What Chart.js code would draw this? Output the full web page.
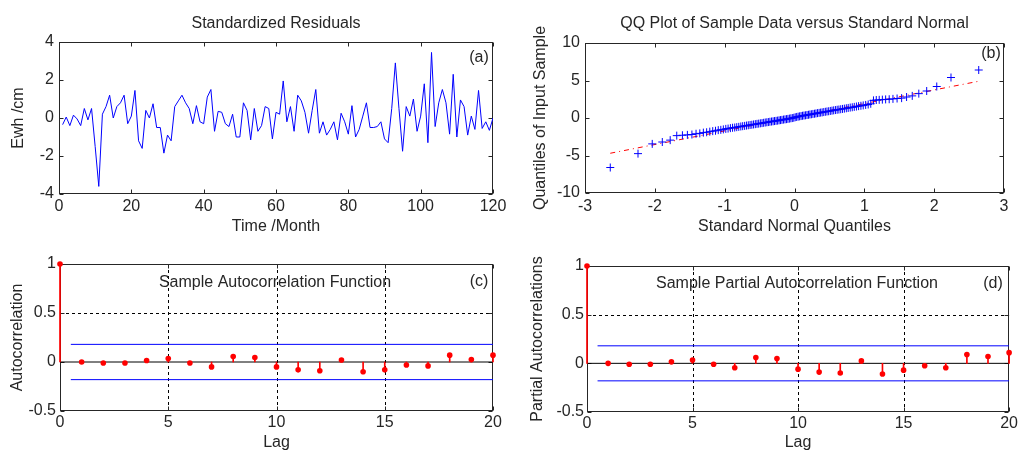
<!DOCTYPE html>
<html><head><meta charset="utf-8">
<script src="https://cdn.jsdelivr.net/npm/chart.js@4.4.0/dist/chart.umd.min.js"></script>
<style>
html,body{margin:0;padding:0;background:#fff;}
#wrap{position:relative;width:1020px;height:453px;overflow:hidden;background:#fff;}
canvas{position:absolute;}
</style></head><body>
<div id="wrap">
<canvas id="ca" width="510" height="235" style="left:0;top:0"></canvas>
<canvas id="cb" width="510" height="235" style="left:510px;top:0"></canvas>
<canvas id="cc" width="510" height="218" style="left:0;top:235px"></canvas>
<canvas id="cd" width="510" height="218" style="left:510px;top:235px"></canvas>
</div>
<script>
// ---------- DATA ----------
const residuals = [
 -0.35,0.05,-0.4,0.15,-0.05,-0.4,0.5,-0.1,0.5,-1.5,
 -3.6,0.2,0.6,1.2,0.0,0.6,0.8,1.2,-0.3,0.1,
 1.45,-1.2,-1.6,0.4,0.0,0.75,-0.5,-0.5,-1.85,-0.9,
 -1.2,0.6,0.9,1.2,0.8,0.5,-0.3,0.65,-0.2,-0.3,
 1.1,1.5,-0.7,0.35,0.3,-0.3,-0.45,0.2,-1.0,-1.0,
 0.8,0.4,-1.15,0.5,-0.7,-0.4,0.6,0.5,-1.1,0.3,
 0.2,1.95,-0.2,0.6,-0.7,1.2,0.9,0.3,-0.8,0.4,
 1.5,-0.8,-0.2,-0.9,-0.6,-0.2,-1.15,0.25,-0.2,-0.85,
 0.65,-1.0,-0.6,0.1,0.8,-0.5,-0.5,-0.45,-0.2,-1.1,
 -1.3,0.5,2.9,0.5,-1.75,0.6,0.1,1.0,-0.7,0.1,
 1.8,-1.3,3.45,-0.45,0.8,1.5,0.8,-0.85,2.3,-1.0,
 0.95,0.6,-0.9,0.1,-0.6,1.45,-0.55,-0.2,-0.65,0.0];

const qqTheoretical = [
 -2.638,-2.241,-2.037,-1.893,-1.780,-1.686,-1.605,-1.534,-1.469,-1.410,
 -1.356,-1.305,-1.258,-1.213,-1.171,-1.131,-1.092,-1.055,-1.019,-0.984,
 -0.951,-0.918,-0.887,-0.856,-0.827,-0.798,-0.769,-0.742,-0.714,-0.688,
 -0.662,-0.636,-0.611,-0.586,-0.561,-0.537,-0.513,-0.489,-0.465,-0.442,
 -0.419,-0.396,-0.374,-0.352,-0.329,-0.307,-0.286,-0.264,-0.242,-0.221,
 -0.200,-0.179,-0.157,-0.136,-0.115,-0.094,-0.073,-0.052,-0.031,-0.010,
 0.010,0.031,0.052,0.073,0.094,0.115,0.136,0.157,0.179,0.200,
 0.221,0.242,0.264,0.286,0.307,0.329,0.352,0.374,0.396,0.419,
 0.442,0.465,0.489,0.513,0.537,0.561,0.586,0.611,0.636,0.662,
 0.688,0.714,0.742,0.769,0.798,0.827,0.856,0.887,0.918,0.951,
 0.984,1.019,1.055,1.092,1.131,1.171,1.213,1.258,1.305,1.356,
 1.410,1.469,1.534,1.605,1.686,1.780,1.893,2.037,2.241,2.638];

const qqSample = [
 -6.6,-4.75,-3.45,-3.2,-2.95,-2.35,-2.3,-2.25,-2.2,-2.1,
 -2.05,-1.95,-1.9,-1.82,-1.75,-1.7,-1.62,-1.58,-1.52,-1.45,
 -1.41,-1.35,-1.3,-1.27,-1.22,-1.18,-1.13,-1.09,-1.05,-1.01,
 -0.97,-0.93,-0.9,-0.86,-0.82,-0.78,-0.75,-0.71,-0.68,-0.64,
 -0.6,-0.57,-0.54,-0.5,-0.47,-0.44,-0.41,-0.38,-0.35,-0.31,
 -0.28,-0.25,-0.21,-0.18,-0.15,-0.12,-0.08,-0.04,-0.01,0.03,
 0.1,0.14,0.18,0.22,0.26,0.3,0.33,0.36,0.4,0.43,
 0.47,0.5,0.54,0.57,0.61,0.65,0.68,0.72,0.75,0.79,
 0.83,0.87,0.9,0.94,0.98,1.02,1.06,1.1,1.13,1.17,
 1.21,1.25,1.3,1.34,1.39,1.43,1.48,1.53,1.58,1.63,
 1.68,1.74,1.8,1.9,2.35,2.4,2.42,2.45,2.48,2.5,
 2.55,2.6,2.65,2.8,2.95,3.25,3.6,4.2,5.4,6.4];

const qqRefX = [-2.638, 2.638];
const qqRefY = [-4.7, 4.9];

const lags = [0,1,2,3,4,5,6,7,8,9,10,11,12,13,14,15,16,17,18,19,20];
const acf  = [1,0.0,-0.01,-0.01,0.015,0.035,-0.01,-0.05,0.055,0.045,-0.05,-0.08,-0.09,0.02,-0.1,-0.08,-0.03,-0.04,0.07,0.025,0.07];
const pacf = [1,0.0,-0.01,-0.01,0.015,0.035,-0.01,-0.045,0.06,0.05,-0.06,-0.09,-0.1,0.025,-0.11,-0.07,-0.025,-0.045,0.09,0.07,0.11];
const acfBound = 0.18;
const pacfBound = 0.18;
const boundStart = 0.5;

// ---------- STYLE ----------
const FONT = '"Liberation Sans", Arial, sans-serif';
const TXT = '#262626';
const AXC = '#262626';

const framePlugin = {
  id: 'frame',
  beforeDatasetsDraw(chart, args, o) {
    const {ctx, chartArea: a, scales: {x, y}} = chart;
    ctx.save();
    if (o.grid) {
      ctx.strokeStyle = '#000';
      ctx.lineWidth = 1;
      ctx.setLineDash([3, 3]);
      x.ticks.forEach(t => {
        if (t.value <= x.min || t.value >= x.max) return;
        const px = Math.round(x.getPixelForValue(t.value)) + 0.5;
        ctx.beginPath(); ctx.moveTo(px, a.top); ctx.lineTo(px, a.bottom); ctx.stroke();
      });
      y.ticks.forEach(t => {
        if (t.value <= y.min || t.value >= y.max || t.value === 0) return;
        const py = Math.round(y.getPixelForValue(t.value)) + 0.5;
        ctx.beginPath(); ctx.moveTo(a.left, py); ctx.lineTo(a.right, py); ctx.stroke();
      });
    }
    ctx.strokeStyle = AXC;
    ctx.lineWidth = 1;
    ctx.setLineDash([]);
    const L = Math.round(a.left) + 0.5, R = Math.round(a.right) - 0.5;
    const T = Math.round(a.top) + 0.5, B = Math.round(a.bottom) - 0.5;
    ctx.strokeRect(L, T, R - L, B - T);
    const tl = 4;
    x.ticks.forEach(t => {
      const px = Math.round(x.getPixelForValue(t.value)) + 0.5;
      ctx.beginPath(); ctx.moveTo(px, B); ctx.lineTo(px, B - tl); ctx.moveTo(px, T); ctx.lineTo(px, T + tl); ctx.stroke();
    });
    y.ticks.forEach(t => {
      const py = Math.round(y.getPixelForValue(t.value)) + 0.5;
      ctx.beginPath(); ctx.moveTo(L, py); ctx.lineTo(L + tl, py); ctx.moveTo(R, py); ctx.lineTo(R - tl, py); ctx.stroke();
    });
    ctx.restore();
  },
  afterDraw(chart, args, o) {
    const {ctx, chartArea: a} = chart;
    ctx.save();
    ctx.fillStyle = TXT;
    ctx.font = '16px ' + FONT;
    ctx.textBaseline = 'middle';
    ctx.textAlign = 'center';
    if (o.title) ctx.fillText(o.title, o.titleX != null ? o.titleX : (a.left + a.right) / 2, o.titleY);
    if (o.tag) ctx.fillText(o.tag, o.tagX, o.tagY);
    ctx.restore();
  }
};

const plainLabel = v => String(Math.round(v * 1000) / 1000);

function makeScales(cfg) {
  return {
    x: {
      type: 'linear', position: 'bottom', min: cfg.xmin, max: cfg.xmax, offset: false,
      ticks: {stepSize: cfg.xstep, color: TXT, font: {family: FONT, size: 16}, padding: cfg.xpad, maxRotation: 0, autoSkip: false, callback: plainLabel},
      grid: {display: false, drawTicks: false, offset: false},
      border: {display: false},
      title: {display: true, text: cfg.xtitle, color: TXT, font: {family: FONT, size: 16, lineHeight: 1}, padding: {top: 0, bottom: cfg.xtpad}},
      afterFit(s) { s.height = cfg.xh; }
    },
    y: {
      type: 'linear', position: 'left', min: cfg.ymin, max: cfg.ymax,
      ticks: {stepSize: cfg.ystep, color: TXT, font: {family: FONT, size: 16}, padding: cfg.ypad, autoSkip: false, callback: plainLabel},
      grid: {display: false, drawTicks: false},
      border: {display: false},
      title: {display: true, text: cfg.ytitle, color: TXT, font: {family: FONT, size: 16, lineHeight: 1}, padding: {top: cfg.ytpad, bottom: 0}},
      afterFit(s) { s.width = cfg.yw; }
    }
  };
}

const baseOpts = (scales, layout, frame) => ({
  responsive: false, animation: false, devicePixelRatio: 1,
  layout: {padding: layout},
  plugins: {legend: {display: false}, tooltip: {enabled: false}, title: {display: false}, frame: frame},
  scales: scales,
  events: []
});

// (a) Standardized residuals
new Chart(document.getElementById('ca'), {
  type: 'line',
  data: {datasets: [{
    data: residuals.map((v, i) => ({x: i + 1, y: v})),
    borderColor: '#0000ff', borderWidth: 1, pointRadius: 0, tension: 0, fill: false
  }]},
  options: baseOpts(
    makeScales({xmin: 0, xmax: 120, xstep: 20, xpad: 3, xtitle: 'Time /Month', xtpad: 0, xh: 41,
                ymin: -4, ymax: 4, ystep: 2, ypad: 5, ytitle: 'Ewh /cm', ytpad: 11, yw: 59}),
    {left: 0, top: 42, right: 17, bottom: 0},
    {title: 'Standardized Residuals', titleY: 24, tag: '(a)', tagX: 479, tagY: 58}
  ),
  plugins: [framePlugin]
});

// (b) QQ plot
new Chart(document.getElementById('cb'), {
  type: 'scatter',
  data: {datasets: [
    {
      data: qqTheoretical.map((q, i) => ({x: q, y: qqSample[i]})),
      pointStyle: 'cross', pointRadius: 4, borderColor: '#0000ff', backgroundColor: '#0000ff', borderWidth: 1, clip: false
    },
    {
      type: 'line',
      data: qqRefX.map((q, i) => ({x: q, y: qqRefY[i]})),
      borderColor: '#ff0000', borderWidth: 1, borderDash: [5, 4, 1, 4], pointRadius: 0, fill: false
    }
  ]},
  options: baseOpts(
    makeScales({xmin: -3, xmax: 3, xstep: 1, xpad: 4, xtitle: 'Standard Normal Quantiles', xtpad: 0, xh: 42,
                ymin: -10, ymax: 10, ystep: 5, ypad: 5, ytitle: 'Quantiles of Input Sample', ytpad: 23, yw: 75}),
    {left: 0, top: 43, right: 16, bottom: 0},
    {title: 'QQ Plot of Sample Data versus Standard Normal', titleY: 24, tag: '(b)', tagX: 481, tagY: 54}
  ),
  plugins: [framePlugin]
});

function acfChart(id, values, bound, cfg, frame) {
  new Chart(document.getElementById(id), {
    type: 'scatter',
    data: {datasets: [
      {
        type: 'scatter',
        data: lags.map((l, i) => ({x: l, y: values[i]})),
        pointStyle: 'circle', pointRadius: 2.8, backgroundColor: '#ff0000', borderColor: '#ff0000', borderWidth: 0, clip: false
      },
      {
        type: 'bar',
        data: lags.map((l, i) => ({x: l, y: values[i]})),
        backgroundColor: '#ff0000', borderWidth: 0, barThickness: 1, grouped: false, clip: false
      },
      {
        type: 'line',
        data: [{x: lags[0], y: 0}, {x: lags[lags.length - 1], y: 0}],
        borderColor: '#000000', borderWidth: 1, pointRadius: 0
      },
      {
        type: 'line',
        data: [{x: boundStart, y: bound}, {x: lags[lags.length - 1], y: bound}],
        borderColor: '#0000ff', borderWidth: 1, pointRadius: 0
      },
      {
        type: 'line',
        data: [{x: boundStart, y: -bound}, {x: lags[lags.length - 1], y: -bound}],
        borderColor: '#0000ff', borderWidth: 1, pointRadius: 0
      }
    ]},
    options: baseOpts(makeScales(cfg.scales), cfg.layout, frame),
    plugins: [framePlugin]
  });
}

acfChart('cc', acf, acfBound, {
  scales: {xmin: 0, xmax: 20, xstep: 5, xpad: 2, xtitle: 'Lag', xtpad: 2, xh: 42,
           ymin: -0.5, ymax: 1, ystep: 0.5, ypad: 4, ytitle: 'Autocorrelation', ytpad: 10, yw: 60},
  layout: {left: 0, top: 29, right: 17, bottom: 0}
}, {grid: true, title: 'Sample Autocorrelation Function', titleX: 275, titleY: 48, tag: '(c)', tagX: 479, tagY: 47});

acfChart('cd', pacf, pacfBound, {
  scales: {xmin: 0, xmax: 20, xstep: 5, xpad: 2, xtitle: 'Lag', xtpad: 2, xh: 41,
           ymin: -0.5, ymax: 1, ystep: 0.5, ypad: 3, ytitle: 'Partial Autocorrelations', ytpad: 20, yw: 77},
  layout: {left: 0, top: 31, right: 10, bottom: 0}
}, {grid: true, title: 'Sample Partial Autocorrelation Function', titleX: 287, titleY: 49, tag: '(d)', tagX: 483, tagY: 49});
</script>
</body></html>
